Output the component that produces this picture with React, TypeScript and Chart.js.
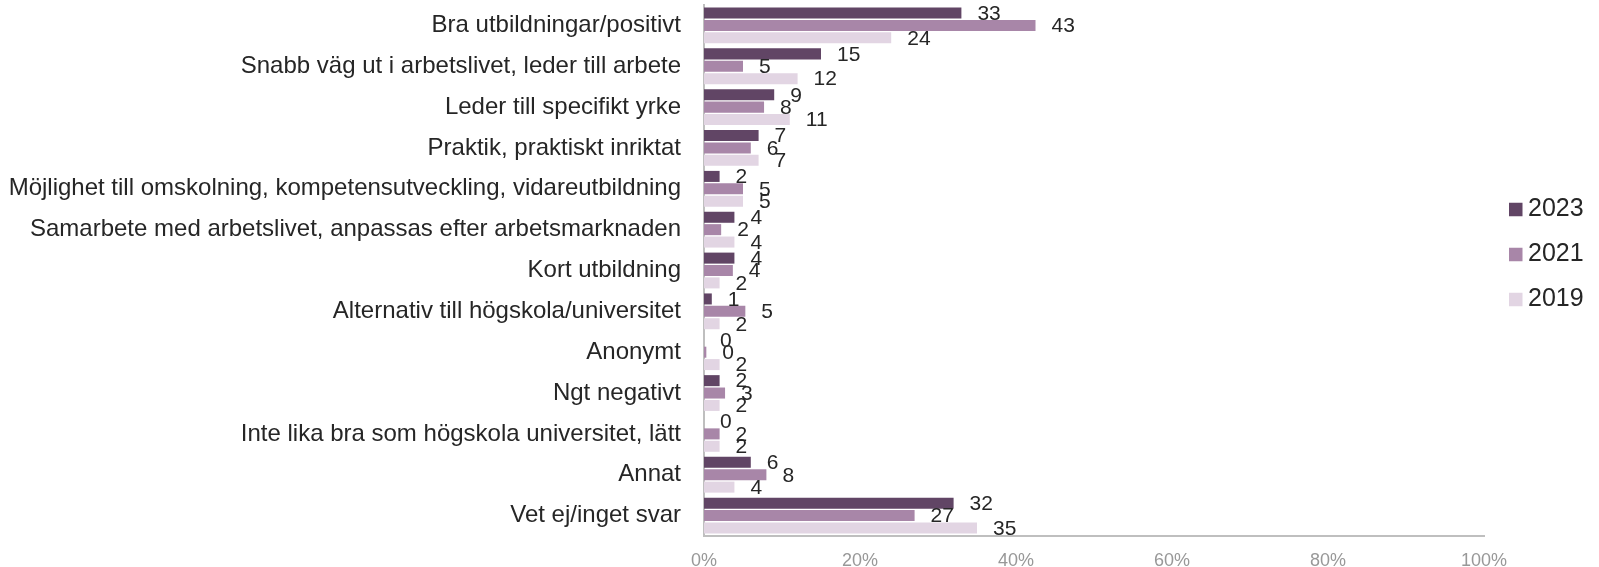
import React, { useEffect, useRef } from "react";
import { Chart, registerables } from "chart.js";

Chart.register(...registerables);

const categories = [
  "Bra utbildningar/positivt",
  "Snabb väg ut i arbetslivet, leder till arbete",
  "Leder till specifikt yrke",
  "Praktik, praktiskt inriktat",
  "Möjlighet till omskolning, kompetensutveckling, vidareutbildning",
  "Samarbete med arbetslivet, anpassas efter arbetsmarknaden",
  "Kort utbildning",
  "Alternativ till högskola/universitet",
  "Anonymt",
  "Ngt negativt",
  "Inte lika bra som högskola universitet, lätt",
  "Annat",
  "Vet ej/inget svar",
];

const seriesLabels = ["2023", "2021", "2019"];
const values2023 = [33, 15, 9, 7, 2, 3.9, 3.9, 1, 0, 2, 0, 6, 32];
const values2021 = [42.5, 5, 7.7, 6, 5, 2.2, 3.7, 5.3, 0.3, 2.7, 2, 8, 27];
const values2019 = [24, 12, 11, 7, 5, 3.9, 2, 2, 2, 2, 2, 3.9, 35];
const xTicks = [0, 20, 40, 60, 80, 100];

const colors = ["#614565", "#a886a8", "#e2d5e3"];
const FONT = "'Liberation Sans', Arial, sans-serif";

const dataLabelPlugin = {
  id: "dataLabels",
  afterDatasetsDraw(chart: any) {
    const ctx = chart.ctx;
    ctx.save();
    ctx.font = `21px ${FONT}`;
    ctx.fillStyle = "#262626";
    ctx.textAlign = "left";
    ctx.textBaseline = "middle";
    chart.data.datasets.forEach((ds: any, di: number) => {
      const meta = chart.getDatasetMeta(di);
      meta.data.forEach((el: any, i: number) => {
        const v = ds.data[i];
        ctx.fillText(String(Math.round(v)), el.x + 16, el.y + 1);
      });
    });
    ctx.restore();
  },
};

const legendPlugin = {
  id: "customLegend",
  afterDraw(chart: any) {
    const ctx = chart.ctx;
    ctx.save();
    ctx.font = `25px ${FONT}`;
    ctx.textAlign = "left";
    ctx.textBaseline = "middle";
    const boxX = chart.chartArea.right + 25;
    const y0 = 209.5;
    const step = 45;
    chart.data.datasets.forEach((ds: any, i: number) => {
      const cy = y0 + i * step;
      ctx.fillStyle = ds.backgroundColor;
      ctx.fillRect(boxX, cy - 6.75, 13.5, 13.5);
      ctx.fillStyle = "#262626";
      ctx.fillText(ds.label, boxX + 19, cy);
    });
    ctx.restore();
  },
};

export default function App() {
  const ref = useRef<HTMLCanvasElement | null>(null);
  useEffect(() => {
    if (!ref.current) return;
    const chart = new Chart(ref.current, {
      type: "bar",
      data: {
        labels: categories,
        datasets: [values2023, values2021, values2019].map((d, i) => ({
          label: seriesLabels[i],
          data: d,
          backgroundColor: colors[i],
          borderWidth: 0,
          categoryPercentage: 0.91,
          barPercentage: 0.89,
        })),
      },
      options: {
        indexAxis: "y",
        animation: false,
        responsive: true,
        maintainAspectRatio: false,
        layout: { padding: { top: 5, right: 115, bottom: 0, left: 0 } },
        plugins: {
          legend: { display: false },
          tooltip: { enabled: false },
        },
        scales: {
          x: {
            min: 0,
            max: 100,
            afterBuildTicks: (scale: any) => {
              scale.ticks = xTicks.map((v) => ({ value: v }));
            },
            afterFit: (scale: any) => {
              scale.height = 31;
              scale.paddingLeft = 0;
              scale.paddingRight = 0;
            },
            grid: { display: false, drawTicks: false },
            border: { display: true, color: "#bfbfbf", width: 2 },
            ticks: {
              padding: 14,
              color: "#989898",
              font: { family: FONT, size: 18 },
              callback: (v: any) => v + "%",
            },
          },
          y: {
            afterFit: (scale: any) => {
              scale.width = 704;
              scale.paddingTop = 0;
              scale.paddingBottom = 0;
            },
            grid: { display: false, drawTicks: false },
            border: { display: true, color: "#bfbfbf", width: 2 },
            ticks: {
              padding: 23,
              color: "#262626",
              autoSkip: false,
              font: { family: FONT, size: 24 },
            },
          },
        },
      },
      plugins: [dataLabelPlugin, legendPlugin],
    });
    return () => chart.destroy();
  }, []);
  return (
    <div style={{ position: "absolute", left: 0, top: 0, width: 1599, height: 567 }}>
      <canvas ref={ref} />
    </div>
  );
}
